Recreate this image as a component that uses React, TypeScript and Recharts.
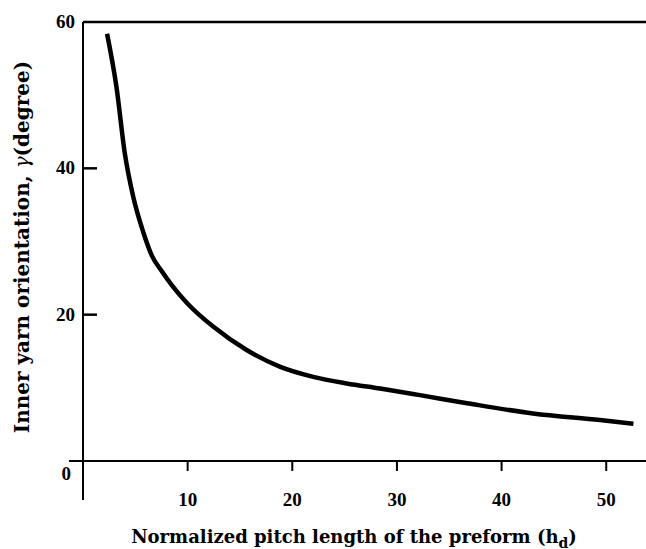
import React from 'react';
import { LineChart, Line, XAxis, YAxis, ReferenceLine } from 'recharts';

// normalized pitch length (h_d) vs inner yarn orientation (degree)
const pitchLength = [2.3, 3.2, 4.0, 4.8, 5.8, 6.6, 7.5, 8.5, 10, 12.5, 15.6, 18.8, 22.0, 25.2, 28.4, 32.2, 36.7, 43.0, 49.4, 52.6];
const orientation = [58.4, 51.1, 42.0, 36.1, 31.1, 28.0, 26.0, 24.0, 21.5, 18.3, 15.2, 12.9, 11.5, 10.6, 9.9, 9.0, 7.9, 6.5, 5.6, 5.1];

const xTicks = [10, 20, 30, 40, 50];
const yTicks = [0, 20, 40, 60];
// inner tick marks on the y axis
const yInnerTicks = [20, 40];

const data = pitchLength.map((x, i) => ({ x, y: orientation[i] }));

const TICK_FONT = '"Liberation Serif", serif';
const TITLE_FONT = '"DejaVu Serif", serif';

// plot geometry
const W = 646;
const H = 549;
const TOP = 22;
const LEFT = 83;
const X_AXIS_H = 88;
const BOTTOM = H - X_AXIS_H;
const Y_MAX = 60;
const yPix = (v: number) => BOTTOM - (v / Y_MAX) * (BOTTOM - TOP);

function YTick(props: any) {
  const { x, y, payload } = props;
  const v = payload.value;
  // the origin label sits below-left of the corner
  const dx = v === 0 ? -4 : 0;
  const dy = v === 0 ? 19 : 6;
  return (
    <text x={x + dx} y={y + dy} textAnchor="end" fontFamily={TICK_FONT} fontSize={19} fontWeight={700} fill="#000">
      {v}
    </text>
  );
}

function XTick(props: any) {
  const { x, y, payload } = props;
  return (
    <text x={x} y={y + 33} textAnchor="middle" fontFamily={TICK_FONT} fontSize={19} fontWeight={700} fill="#000">
      {payload.value}
    </text>
  );
}

export default function App() {
  return (
    <div style={{ width: W, height: H, background: '#fff' }}>
      <style>{'body{margin:0}'}</style>
      <LineChart width={W} height={H} data={data} margin={{ top: TOP, right: 0, bottom: 0, left: 0 }}>
        <XAxis
          dataKey="x"
          type="number"
          domain={[0, 53.8]}
          ticks={xTicks}
          height={X_AXIS_H}
          axisLine={{ stroke: '#000', strokeWidth: 2 }}
          tickLine={{ stroke: '#000', strokeWidth: 2 }}
          tickSize={10}
          tick={<XTick />}
          allowDataOverflow
        />
        <YAxis
          type="number"
          domain={[0, Y_MAX]}
          ticks={yTicks}
          width={LEFT}
          axisLine={{ stroke: '#000', strokeWidth: 2 }}
          tickLine={false}
          tick={<YTick />}
          interval={0}
        />
        <ReferenceLine y={60} stroke="#000" strokeWidth={2.5} />
        <Line
          type="monotone"
          dataKey="y"
          stroke="#000"
          strokeWidth={4.5}
          dot={false}
          isAnimationActive={false}
        />
        {/* inward ticks and axis lines running past the origin */}
        <g>
          {yInnerTicks.map((v) => (
            <line key={v} x1={LEFT} x2={LEFT + 14} y1={yPix(v)} y2={yPix(v)} stroke="#000" strokeWidth={2.5} />
          ))}
          <line x1={LEFT - 14} x2={LEFT} y1={BOTTOM} y2={BOTTOM} stroke="#000" strokeWidth={2} />
          <line x1={LEFT} x2={LEFT} y1={BOTTOM} y2={BOTTOM + 39} stroke="#000" strokeWidth={2} />
        </g>
        <text
          x={22}
          y={247}
          transform="rotate(-90 22 247)"
          textAnchor="middle"
          dominantBaseline="central"
          fontFamily={TITLE_FONT}
          fontSize={20}
          fontWeight={700}
          fill="#000"
        >
          Inner yarn orientation, <tspan fontWeight={400} fontStyle="italic">γ</tspan>(degree)
        </text>
        <text x={354} y={543} textAnchor="middle" fontFamily={TITLE_FONT} fontSize={18} fontWeight={700} fill="#000">
          Normalized pitch length of the preform (h<tspan dy={5} fontSize={14}>d</tspan><tspan dy={-5}>)</tspan>
        </text>
      </LineChart>
    </div>
  );
}
